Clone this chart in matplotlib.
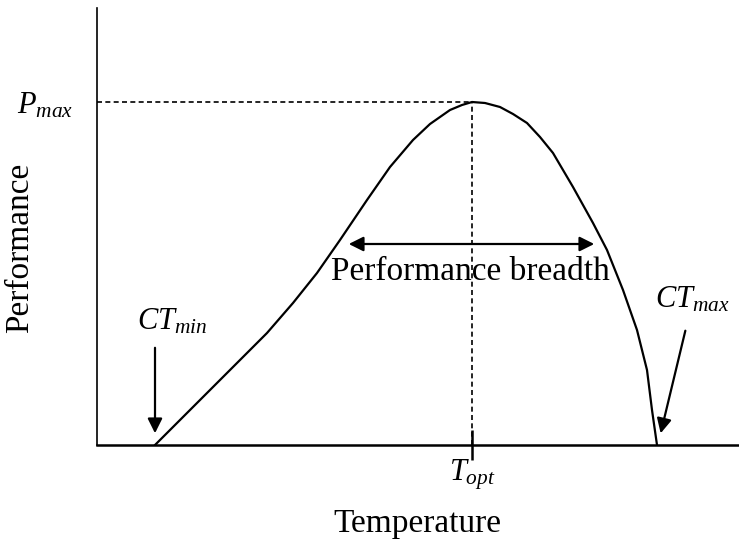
import matplotlib.pyplot as plt

plt.rcParams['font.family'] = 'Liberation Serif'
plt.rcParams['mathtext.fontset'] = 'custom'
plt.rcParams['mathtext.rm'] = 'Liberation Serif'
plt.rcParams['mathtext.it'] = 'Liberation Serif:italic'

# curve (temperature, performance), arbitrary units
temp = [58, 110, 146, 170, 196, 220, 243, 270, 293, 316, 333, 353, 365, 375,
        388, 403, 416, 430, 443, 456, 476, 496, 510, 526, 540, 550, 555, 560]
perf = [0, 52, 88, 112, 142, 172, 205, 245, 278, 305, 321, 335, 340, 343,
        342, 338, 331, 322, 308, 292, 258, 222, 195, 155, 115, 75, 35, 0]
t_opt, p_max = 375, 343
ct_min, ct_max = 58, 560

fig = plt.figure(figsize=(7.39, 5.45), dpi=100)
ax = fig.add_axes([97 / 739, 100 / 545, 641 / 739, 437 / 545])
ax.set_xlim(0, 641)
ax.set_ylim(0, 437)

ax.plot(temp, perf, color='black', lw=1.6, solid_joinstyle='round')
ax.plot([0, t_opt], [p_max, p_max], 'k--', lw=1.2, dashes=(3, 2))
ax.plot([t_opt, t_opt], [0, p_max], 'k--', lw=1.2, dashes=(3, 2))

for s in ['top', 'right']:
    ax.spines[s].set_visible(False)
ax.spines['left'].set_linewidth(1.2)
ax.spines['bottom'].set_linewidth(1.8)

ax.set_xticks([t_opt])
ax.set_xticklabels(['$T_{opt}$'], fontsize=22)
ax.set_yticks([p_max])
ax.set_yticklabels(['$P_{max}$'], fontsize=22)
ax.tick_params(axis='x', direction='inout', length=22, width=1.8, pad=-2)
ax.tick_params(axis='y', length=0, pad=17)

ax.set_xlabel('Temperature', fontsize=24, labelpad=12)
fig.text(20 / 739, 1 - 248 / 545, 'Performance', fontsize=24,
         rotation=90, ha='center', va='center')

arrow = dict(arrowstyle='-|>', color='black', lw=1.6, mutation_scale=22)
ax.annotate('', xy=(ct_min, 9), xytext=(ct_min, 100), arrowprops=arrow)
ax.annotate('', xy=(563, 9), xytext=(589, 117), arrowprops=arrow)
ax.annotate('', xy=(249, 201), xytext=(500, 201),
            arrowprops=dict(arrowstyle='<|-|>', color='black', lw=1.6,
                            mutation_scale=22))

ax.text(373, 173, 'Performance breadth', fontsize=24, ha='center', va='center')
ax.text(75, 123, '$CT_{min}$', fontsize=22, ha='center', va='center')
ax.text(595, 145, '$CT_{max}$', fontsize=22, ha='center', va='center')

fig.savefig('out.png', dpi=100)
